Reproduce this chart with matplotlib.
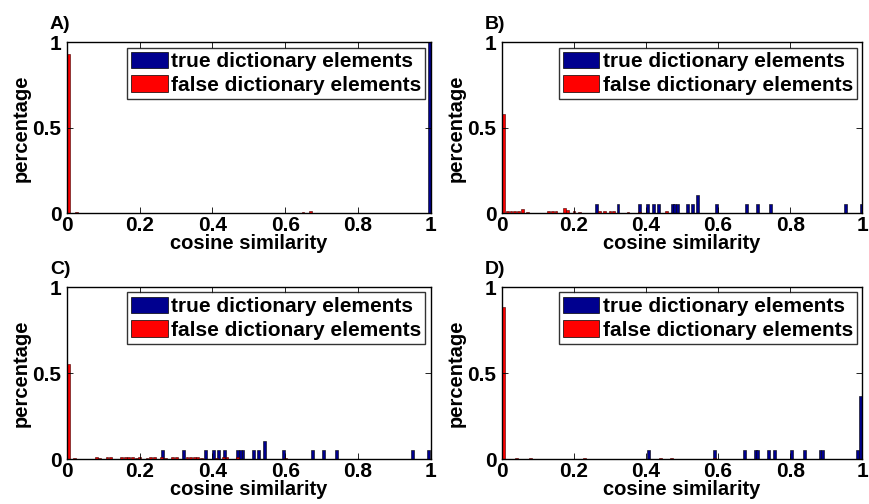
import matplotlib.pyplot as plt
from matplotlib.patches import Patch

plt.rcParams['font.family'] = ['Liberation Sans', 'DejaVu Sans']
plt.rcParams['font.weight'] = 'bold'

# histogram bars: bin centre and height
a_true_x = [0.996]
a_true_h = [1.0]
a_false_x = [0.004, 0.025, 0.059, 0.119, 0.439, 0.495, 0.649, 0.669, 0.738, 0.995]
a_false_h = [0.93, 0.005, 0.004, 0.004, 0.004, 0.004, 0.005, 0.01, 0.004, 0.004]

b_true_x = [0.262, 0.322, 0.382, 0.405, 0.420, 0.434, 0.473, 0.480, 0.487, 0.515,
            0.530, 0.544, 0.596, 0.679, 0.709, 0.745, 0.953, 0.997]
b_true_h = [0.053] * 11 + [0.105] + [0.053] * 6
b_false_x = [0.004, 0.015, 0.025, 0.035, 0.045, 0.057, 0.07, 0.13, 0.14, 0.15, 0.173, 0.183,
             0.20, 0.215, 0.27, 0.285, 0.30, 0.31, 0.35, 0.383, 0.456, 0.652, 0.87, 0.91]
b_false_h = [0.58, 0.01, 0.01, 0.01, 0.012, 0.022, 0.005, 0.012, 0.01, 0.01, 0.033, 0.02,
             0.012, 0.008, 0.015, 0.012, 0.012, 0.015, 0.008, 0.008, 0.015, 0.004, 0.003, 0.003]

c_true_x = [0.262, 0.321, 0.381, 0.402, 0.416, 0.432, 0.468, 0.476, 0.484, 0.513,
            0.527, 0.543, 0.595, 0.676, 0.705, 0.742, 0.950, 0.995]
c_true_h = [0.053] * 11 + [0.105] + [0.053] * 6
c_false_x = [0.004, 0.02, 0.08, 0.09, 0.11, 0.12, 0.15, 0.16, 0.17, 0.18, 0.19, 0.20, 0.22,
             0.23, 0.24, 0.26, 0.27, 0.29, 0.30, 0.33, 0.34, 0.35, 0.36, 0.37, 0.41, 0.43,
             0.44, 0.47, 0.60]
c_false_h = [0.552, 0.005, 0.01, 0.008, 0.01, 0.015, 0.015, 0.01, 0.015, 0.01, 0.008, 0.01,
             0.008, 0.01, 0.015, 0.01, 0.008, 0.01, 0.015, 0.012, 0.015, 0.015, 0.01, 0.008,
             0.008, 0.01, 0.015, 0.01, 0.005]

d_true_x = [0.406, 0.590, 0.674, 0.703, 0.710, 0.739, 0.757, 0.805, 0.839, 0.883, 0.890,
            0.988, 0.996]
d_true_h = [0.053] * 12 + [0.368]
d_false_x = [0.004, 0.04, 0.08, 0.23, 0.44, 0.47, 0.59]
d_false_h = [0.883, 0.004, 0.004, 0.004, 0.004, 0.004, 0.006]

panel_labels = ['A)', 'B)', 'C)', 'D)']
x_ticks = [0, 0.2, 0.4, 0.6, 0.8, 1]
x_ticklabels = ['0', '0.2', '0.4', '0.6', '0.8', '1']
y_ticks = [0, 0.5, 1]
y_ticklabels = ['0', '0.5', '1']

TRUE_C = '#00008f'
FALSE_C = '#ff0000'

panels = [
    (a_true_x, a_true_h, a_false_x, a_false_h),
    (b_true_x, b_true_h, b_false_x, b_false_h),
    (c_true_x, c_true_h, c_false_x, c_false_h),
    (d_true_x, d_true_h, d_false_x, d_false_h),
]
# axes rectangles in figure fractions
rects = [
    [0.077, 0.577, 0.418, 0.339],
    [0.577, 0.577, 0.414, 0.339],
    [0.077, 0.089, 0.418, 0.341],
    [0.577, 0.089, 0.414, 0.341],
]

fig = plt.figure(figsize=(8.7, 5.04), dpi=100)

for i, (tx, th, fx, fh) in enumerate(panels):
    ax = fig.add_axes(rects[i])
    ax.bar(tx, th, width=0.008, color=TRUE_C, edgecolor='black', linewidth=0.4)
    ax.bar(fx, fh, width=0.008, color=FALSE_C, edgecolor='#400000', linewidth=0.4)
    ax.set_xlim(0, 1)
    ax.set_ylim(0, 1)
    ax.set_xticks(x_ticks)
    ax.set_xticklabels(x_ticklabels)
    ax.set_yticks(y_ticks)
    ax.set_yticklabels(y_ticklabels)
    ax.tick_params(direction='in', top=True, right=True, length=4, width=0.6,
                   labelsize=15, pad=2, colors='black')
    ax.tick_params(axis='y', pad=4)
    for lab in ax.get_xticklabels() + ax.get_yticklabels():
        lab.set_fontweight('bold')
    for sp in ax.spines.values():
        sp.set_linewidth(1.0)
    ax.set_xlabel('cosine similarity', fontsize=14.5, fontweight='bold', labelpad=-1)
    ax.set_ylabel('percentage', fontsize=14.5, fontweight='bold', labelpad=1)
    ax.text(-0.047, 1.076, panel_labels[i], transform=ax.transAxes, fontsize=14,
            fontweight='bold', ha='left', va='baseline')
    handles = [Patch(facecolor=TRUE_C, edgecolor='black', linewidth=0.5),
               Patch(facecolor=FALSE_C, edgecolor='black', linewidth=0.5)]
    leg = ax.legend(handles, ['true dictionary elements', 'false dictionary elements'],
                    loc='upper right', prop={'weight': 'bold', 'size': 15},
                    frameon=True, fancybox=False, borderaxespad=0.25,
                    handlelength=1.75, handleheight=0.85, handletextpad=0.15,
                    labelspacing=0.2, borderpad=0.2)
    leg.get_frame().set_edgecolor('black')
    leg.get_frame().set_linewidth(1.0)

fig.savefig('out.png', dpi=100)
